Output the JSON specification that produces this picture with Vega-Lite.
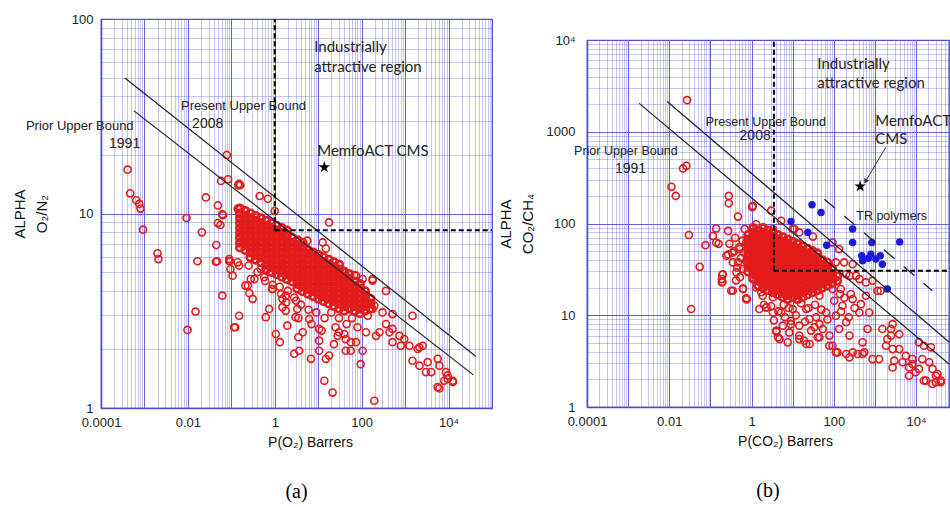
{
"$schema":"https://vega.github.io/schema/vega-lite/v6.json",
"padding":{"left":11,"top":12,"right":0,"bottom":0},
"spacing":3,
"config":{
"view":{"stroke":"#4b4bcc","strokeWidth":1.2},
"font":"Liberation Sans",
"axis":{"domainColor":"#4b4bcc","domainWidth":1.5,"ticks":false,"labelColor":"#222","titleColor":"#111","labelFont":"Liberation Sans","titleFont":"Liberation Sans","titleFontWeight":"normal","labelFontSize":13,"titleFontSize":14,"labelOverlap":false,"labelFlush":false,"labelBound":false,"labelPadding":8,"grid":true,"gridColor":"#5252d2","gridWidth":1}
},
"datasets":{
"blobA":[
{"x":0.158,"y":6.68},{"x":0.158,"y":7.08},{"x":0.158,"y":7.5},{"x":0.158,"y":7.94},{"x":0.158,"y":8.41},{"x":0.158,"y":8.91},{"x":0.158,"y":9.44},{"x":0.158,"y":10},{"x":0.158,"y":10.6},
{"x":0.209,"y":6.49},{"x":0.209,"y":6.88},{"x":0.209,"y":7.29},{"x":0.209,"y":7.72},{"x":0.209,"y":8.18},{"x":0.209,"y":8.66},{"x":0.209,"y":9.17},{"x":0.209,"y":9.72},{"x":0.209,"y":10.3},
{"x":0.275,"y":5.96},{"x":0.275,"y":6.31},{"x":0.275,"y":6.68},{"x":0.275,"y":7.08},{"x":0.275,"y":7.5},{"x":0.275,"y":7.94},{"x":0.275,"y":8.41},{"x":0.275,"y":8.91},{"x":0.275,"y":9.44},{"x":0.275,"y":10},
{"x":0.363,"y":5.79},{"x":0.363,"y":6.13},{"x":0.363,"y":6.49},{"x":0.363,"y":6.88},{"x":0.363,"y":7.29},{"x":0.363,"y":7.72},{"x":0.363,"y":8.18},{"x":0.363,"y":8.66},{"x":0.363,"y":9.17},{"x":0.363,"y":9.72},
{"x":0.479,"y":5.62},{"x":0.479,"y":5.96},{"x":0.479,"y":6.31},{"x":0.479,"y":6.68},{"x":0.479,"y":7.08},{"x":0.479,"y":7.5},{"x":0.479,"y":7.94},{"x":0.479,"y":8.41},{"x":0.479,"y":8.91},{"x":0.479,"y":9.44},
{"x":0.631,"y":5.16},{"x":0.631,"y":5.46},{"x":0.631,"y":5.79},{"x":0.631,"y":6.13},{"x":0.631,"y":6.49},{"x":0.631,"y":6.88},{"x":0.631,"y":7.29},{"x":0.631,"y":7.72},{"x":0.631,"y":8.18},{"x":0.631,"y":8.66},{"x":0.631,"y":9.17},
{"x":0.832,"y":5.01},{"x":0.832,"y":5.31},{"x":0.832,"y":5.62},{"x":0.832,"y":5.96},{"x":0.832,"y":6.31},{"x":0.832,"y":6.68},{"x":0.832,"y":7.08},{"x":0.832,"y":7.5},{"x":0.832,"y":7.94},{"x":0.832,"y":8.41},{"x":0.832,"y":8.91},
{"x":1.1,"y":4.87},{"x":1.1,"y":5.16},{"x":1.1,"y":5.46},{"x":1.1,"y":5.79},{"x":1.1,"y":6.13},{"x":1.1,"y":6.49},{"x":1.1,"y":6.88},{"x":1.1,"y":7.29},{"x":1.1,"y":7.72},{"x":1.1,"y":8.18},{"x":1.1,"y":8.66},
{"x":1.45,"y":4.73},{"x":1.45,"y":5.01},{"x":1.45,"y":5.31},{"x":1.45,"y":5.62},{"x":1.45,"y":5.96},{"x":1.45,"y":6.31},{"x":1.45,"y":6.68},{"x":1.45,"y":7.08},{"x":1.45,"y":7.5},{"x":1.45,"y":7.94},{"x":1.45,"y":8.41},
{"x":1.91,"y":4.6},{"x":1.91,"y":4.87},{"x":1.91,"y":5.16},{"x":1.91,"y":5.46},{"x":1.91,"y":5.79},{"x":1.91,"y":6.13},{"x":1.91,"y":6.49},{"x":1.91,"y":6.88},{"x":1.91,"y":7.29},{"x":1.91,"y":7.72},{"x":1.91,"y":8.18},
{"x":2.51,"y":4.47},{"x":2.51,"y":4.73},{"x":2.51,"y":5.01},{"x":2.51,"y":5.31},{"x":2.51,"y":5.62},{"x":2.51,"y":5.96},{"x":2.51,"y":6.31},{"x":2.51,"y":6.68},{"x":2.51,"y":7.08},{"x":2.51,"y":7.5},
{"x":3.31,"y":4.1},{"x":3.31,"y":4.34},{"x":3.31,"y":4.6},{"x":3.31,"y":4.87},{"x":3.31,"y":5.16},{"x":3.31,"y":5.46},{"x":3.31,"y":5.79},{"x":3.31,"y":6.13},{"x":3.31,"y":6.49},{"x":3.31,"y":6.88},{"x":3.31,"y":7.29},
{"x":4.37,"y":3.98},{"x":4.37,"y":4.22},{"x":4.37,"y":4.47},{"x":4.37,"y":4.73},{"x":4.37,"y":5.01},{"x":4.37,"y":5.31},{"x":4.37,"y":5.62},{"x":4.37,"y":5.96},{"x":4.37,"y":6.31},{"x":4.37,"y":6.68},{"x":4.37,"y":7.08},
{"x":5.75,"y":3.87},{"x":5.75,"y":4.1},{"x":5.75,"y":4.34},{"x":5.75,"y":4.6},{"x":5.75,"y":4.87},{"x":5.75,"y":5.16},{"x":5.75,"y":5.46},{"x":5.75,"y":5.79},{"x":5.75,"y":6.13},{"x":5.75,"y":6.49},
{"x":7.59,"y":3.76},{"x":7.59,"y":3.98},{"x":7.59,"y":4.22},{"x":7.59,"y":4.47},{"x":7.59,"y":4.73},{"x":7.59,"y":5.01},{"x":7.59,"y":5.31},{"x":7.59,"y":5.62},{"x":7.59,"y":5.96},{"x":7.59,"y":6.31},
{"x":10,"y":3.65},{"x":10,"y":3.87},{"x":10,"y":4.1},{"x":10,"y":4.34},{"x":10,"y":4.6},{"x":10,"y":4.87},{"x":10,"y":5.16},{"x":10,"y":5.46},{"x":10,"y":5.79},{"x":10,"y":6.13},
{"x":13.2,"y":3.55},{"x":13.2,"y":3.76},{"x":13.2,"y":3.98},{"x":13.2,"y":4.22},{"x":13.2,"y":4.47},{"x":13.2,"y":4.73},{"x":13.2,"y":5.01},{"x":13.2,"y":5.31},{"x":13.2,"y":5.62},{"x":13.2,"y":5.96},
{"x":17.4,"y":3.45},{"x":17.4,"y":3.65},{"x":17.4,"y":3.87},{"x":17.4,"y":4.1},{"x":17.4,"y":4.34},{"x":17.4,"y":4.6},{"x":17.4,"y":4.87},{"x":17.4,"y":5.16},{"x":17.4,"y":5.46},{"x":17.4,"y":5.79},
{"x":22.9,"y":3.35},{"x":22.9,"y":3.55},{"x":22.9,"y":3.76},{"x":22.9,"y":3.98},{"x":22.9,"y":4.22},{"x":22.9,"y":4.47},{"x":22.9,"y":4.73},{"x":22.9,"y":5.01},{"x":22.9,"y":5.31},{"x":22.9,"y":5.62},
{"x":30.2,"y":3.25},{"x":30.2,"y":3.45},{"x":30.2,"y":3.65},{"x":30.2,"y":3.87},{"x":30.2,"y":4.1},{"x":30.2,"y":4.34},{"x":30.2,"y":4.6},{"x":30.2,"y":4.87},{"x":30.2,"y":5.16},{"x":30.2,"y":5.46},
{"x":39.8,"y":3.16},{"x":39.8,"y":3.35},{"x":39.8,"y":3.55},{"x":39.8,"y":3.76},{"x":39.8,"y":3.98},{"x":39.8,"y":4.22},{"x":39.8,"y":4.47},{"x":39.8,"y":4.73},{"x":39.8,"y":5.01},
{"x":52.5,"y":3.25},{"x":52.5,"y":3.45},{"x":52.5,"y":3.65},{"x":52.5,"y":3.87},{"x":52.5,"y":4.1},{"x":52.5,"y":4.34},{"x":52.5,"y":4.6},{"x":52.5,"y":4.87},
{"x":69.2,"y":3.16},{"x":69.2,"y":3.35},{"x":69.2,"y":3.55},{"x":69.2,"y":3.76},{"x":69.2,"y":3.98},{"x":69.2,"y":4.22},{"x":69.2,"y":4.47},
{"x":91.2,"y":3.07},{"x":91.2,"y":3.25},{"x":91.2,"y":3.45},{"x":91.2,"y":3.65},{"x":91.2,"y":3.87},{"x":91.2,"y":4.1},{"x":91.2,"y":4.34},
{"x":120,"y":3.16},{"x":120,"y":3.35},{"x":120,"y":3.55},{"x":120,"y":3.76},{"x":120,"y":3.98},
{"x":158,"y":3.25},{"x":158,"y":3.45},{"x":158,"y":3.65}
],
"redA":[
{"x":0.00041,"y":16.8},{"x":0.00047,"y":12.7},{"x":0.00065,"y":11.7},{"x":0.00076,"y":11.2},{"x":0.00081,"y":10.6},{"x":0.00093,"y":8.26},{"x":0.002,"y":6.24},{"x":0.0021,"y":5.83},{"x":0.0093,"y":9.48},{"x":0.021,"y":8},{"x":0.0166,"y":5.68},{"x":0.026,"y":12.1},{"x":0.0787,"y":20},{"x":0.058,"y":14.7},{"x":0.084,"y":15},{"x":0.049,"y":11},{"x":0.064,"y":9.8},{"x":0.049,"y":8.93},{"x":0.056,"y":8.73},{"x":0.045,"y":6.89},{"x":0.047,"y":5.68},{"x":0.062,"y":3.78},{"x":0.093,"y":5.68},{"x":0.095,"y":5.18},{"x":0.14,"y":5.61},{"x":0.144,"y":14},{"x":0.16,"y":14},{"x":0.14,"y":10.6},{"x":0.21,"y":4.26},{"x":0.26,"y":3.89},{"x":0.45,"y":12.3},{"x":0.69,"y":11.9},{"x":1,"y":10.3},{"x":0.34,"y":4.6},{"x":0.57,"y":4.7},{"x":0.86,"y":4.09},{"x":1.4,"y":3.86},{"x":1.83,"y":3.49},{"x":3.1,"y":3.56},{"x":0.151,"y":14.2},{"x":0.0098,"y":2.52},{"x":0.015,"y":3.13},{"x":0.123,"y":2.6},{"x":0.044,"y":5.65},{"x":0.089,"y":5.7},{"x":0.062,"y":9.9},{"x":0.116,"y":2.6},{"x":0.151,"y":2.98},{"x":0.62,"y":2.93},{"x":1.06,"y":2.4},{"x":1.31,"y":2.18},{"x":2.8,"y":1.9},{"x":3.65,"y":1.97},{"x":6.8,"y":1.79},{"x":13.8,"y":1.38},{"x":21.4,"y":1.2},{"x":195,"y":1.09},{"x":95,"y":1.68},{"x":56,"y":1.97},{"x":17.8,"y":1.86},{"x":15,"y":1.79},{"x":10.5,"y":2.22},{"x":3.47,"y":2.31},{"x":1.95,"y":2.65},{"x":1.78,"y":3.16},{"x":3.3,"y":3.23},{"x":6.2,"y":2.87},{"x":10.5,"y":2.55},{"x":30,"y":2.45},{"x":43,"y":2.26},{"x":74,"y":2.18},{"x":105,"y":1.97},{"x":257,"y":2.45},{"x":363,"y":2.7},{"x":513,"y":2.55},{"x":741,"y":2.35},{"x":955,"y":2.26},{"x":1260,"y":2.09},{"x":2140,"y":2.05},{"x":2530,"y":2.09},{"x":1480,"y":1.75},{"x":2140,"y":1.65},{"x":3310,"y":1.72},{"x":3980,"y":1.53},{"x":5620,"y":1.79},{"x":6170,"y":1.65},{"x":8710,"y":1.53},{"x":9550,"y":1.41},{"x":12600,"y":1.38},{"x":7940,"y":1.38},{"x":5620,"y":1.28},{"x":3020,"y":1.53},{"x":1480,"y":2.98},{"x":363,"y":4},{"x":178,"y":4.6},{"x":74,"y":4.79},{"x":36,"y":5.08},{"x":17.8,"y":9},{"x":12.6,"y":7.1},{"x":15,"y":6.6},{"x":5.6,"y":7.25},{"x":6.2,"y":6.3},{"x":43,"y":3.36},{"x":126,"y":3.5},{"x":138,"y":2.98},{"x":178,"y":3.23},{"x":302,"y":3.1},{"x":513,"y":3.04},{"x":437,"y":2.45},{"x":214,"y":2.35},{"x":126,"y":2.45},{"x":513,"y":2.18},{"x":794,"y":2.09},{"x":1950,"y":2.01},{"x":23,"y":2.13},{"x":28,"y":2.35},{"x":56,"y":2.18},{"x":43,"y":1.97},{"x":10.5,"y":1.97},{"x":4.4,"y":2.45},{"x":3,"y":2.93},{"x":1.5,"y":3.64},{"x":0.74,"y":3.23},{"x":0.31,"y":3.64},{"x":0.24,"y":4.26},{"x":0.107,"y":4.79},{"x":0.151,"y":5.4},{"x":0.089,"y":5.83},{"x":0.28,"y":4.6},{"x":0.48,"y":5.18},{"x":0.89,"y":4.09},{"x":1.78,"y":3.78},{"x":12600,"y":1.36},{"x":6170,"y":1.26},{"x":9550,"y":1.47},{"x":195,"y":3.36},{"x":178,"y":4.52},{"x":105,"y":4.6},{"x":68,"y":4.83},{"x":36,"y":5},
{"x":0.25,"y":5.4},{"x":0.4,"y":5},{"x":0.6,"y":4.5},{"x":0.9,"y":4.3},{"x":1.3,"y":4.2},{"x":2,"y":4},{"x":2.8,"y":3.7},{"x":4,"y":3.4},{"x":6,"y":3.2},{"x":9,"y":3.1},{"x":14,"y":2.9},{"x":20,"y":3.1},{"x":30,"y":2.9},{"x":45,"y":2.7},{"x":60,"y":2.9},{"x":80,"y":2.6},{"x":1.5,"y":3.3},{"x":3.5,"y":2.9},{"x":7,"y":2.7},{"x":12,"y":2.5},{"x":25,"y":2.6},{"x":40,"y":2.4}
],
"blobB":[
{"x":0.832,"y":29.9},{"x":0.832,"y":33.5},{"x":0.832,"y":37.6},{"x":0.832,"y":42.2},{"x":0.832,"y":47.3},{"x":0.832,"y":53.1},{"x":0.832,"y":59.6},{"x":0.832,"y":66.8},{"x":0.832,"y":75},
{"x":1.1,"y":25.1},{"x":1.1,"y":28.2},{"x":1.1,"y":31.6},{"x":1.1,"y":35.5},{"x":1.1,"y":39.8},{"x":1.1,"y":44.7},{"x":1.1,"y":50.1},{"x":1.1,"y":56.2},{"x":1.1,"y":63.1},{"x":1.1,"y":70.8},{"x":1.1,"y":79.4},{"x":1.1,"y":89.1},
{"x":1.45,"y":21.1},{"x":1.45,"y":23.7},{"x":1.45,"y":26.6},{"x":1.45,"y":29.9},{"x":1.45,"y":33.5},{"x":1.45,"y":37.6},{"x":1.45,"y":42.2},{"x":1.45,"y":47.3},{"x":1.45,"y":53.1},{"x":1.45,"y":59.6},{"x":1.45,"y":66.8},{"x":1.45,"y":75},{"x":1.45,"y":84.1},
{"x":1.91,"y":20},{"x":1.91,"y":22.4},{"x":1.91,"y":25.1},{"x":1.91,"y":28.2},{"x":1.91,"y":31.6},{"x":1.91,"y":35.5},{"x":1.91,"y":39.8},{"x":1.91,"y":44.7},{"x":1.91,"y":50.1},{"x":1.91,"y":56.2},{"x":1.91,"y":63.1},{"x":1.91,"y":70.8},{"x":1.91,"y":79.4},{"x":1.91,"y":89.1},
{"x":2.51,"y":18.8},{"x":2.51,"y":21.1},{"x":2.51,"y":23.7},{"x":2.51,"y":26.6},{"x":2.51,"y":29.9},{"x":2.51,"y":33.5},{"x":2.51,"y":37.6},{"x":2.51,"y":42.2},{"x":2.51,"y":47.3},{"x":2.51,"y":53.1},{"x":2.51,"y":59.6},{"x":2.51,"y":66.8},{"x":2.51,"y":75},{"x":2.51,"y":84.1},
{"x":3.31,"y":17.8},{"x":3.31,"y":20},{"x":3.31,"y":22.4},{"x":3.31,"y":25.1},{"x":3.31,"y":28.2},{"x":3.31,"y":31.6},{"x":3.31,"y":35.5},{"x":3.31,"y":39.8},{"x":3.31,"y":44.7},{"x":3.31,"y":50.1},{"x":3.31,"y":56.2},{"x":3.31,"y":63.1},{"x":3.31,"y":70.8},{"x":3.31,"y":79.4},
{"x":4.37,"y":16.8},{"x":4.37,"y":18.8},{"x":4.37,"y":21.1},{"x":4.37,"y":23.7},{"x":4.37,"y":26.6},{"x":4.37,"y":29.9},{"x":4.37,"y":33.5},{"x":4.37,"y":37.6},{"x":4.37,"y":42.2},{"x":4.37,"y":47.3},{"x":4.37,"y":53.1},{"x":4.37,"y":59.6},{"x":4.37,"y":66.8},{"x":4.37,"y":75},
{"x":5.75,"y":15.8},{"x":5.75,"y":17.8},{"x":5.75,"y":20},{"x":5.75,"y":22.4},{"x":5.75,"y":25.1},{"x":5.75,"y":28.2},{"x":5.75,"y":31.6},{"x":5.75,"y":35.5},{"x":5.75,"y":39.8},{"x":5.75,"y":44.7},{"x":5.75,"y":50.1},{"x":5.75,"y":56.2},{"x":5.75,"y":63.1},{"x":5.75,"y":70.8},
{"x":7.59,"y":15},{"x":7.59,"y":16.8},{"x":7.59,"y":18.8},{"x":7.59,"y":21.1},{"x":7.59,"y":23.7},{"x":7.59,"y":26.6},{"x":7.59,"y":29.9},{"x":7.59,"y":33.5},{"x":7.59,"y":37.6},{"x":7.59,"y":42.2},{"x":7.59,"y":47.3},{"x":7.59,"y":53.1},{"x":7.59,"y":59.6},{"x":7.59,"y":66.8},
{"x":10,"y":15.8},{"x":10,"y":17.8},{"x":10,"y":20},{"x":10,"y":22.4},{"x":10,"y":25.1},{"x":10,"y":28.2},{"x":10,"y":31.6},{"x":10,"y":35.5},{"x":10,"y":39.8},{"x":10,"y":44.7},{"x":10,"y":50.1},{"x":10,"y":56.2},{"x":10,"y":63.1},
{"x":13.2,"y":15},{"x":13.2,"y":16.8},{"x":13.2,"y":18.8},{"x":13.2,"y":21.1},{"x":13.2,"y":23.7},{"x":13.2,"y":26.6},{"x":13.2,"y":29.9},{"x":13.2,"y":33.5},{"x":13.2,"y":37.6},{"x":13.2,"y":42.2},{"x":13.2,"y":47.3},{"x":13.2,"y":53.1},{"x":13.2,"y":59.6},
{"x":17.4,"y":15.8},{"x":17.4,"y":17.8},{"x":17.4,"y":20},{"x":17.4,"y":22.4},{"x":17.4,"y":25.1},{"x":17.4,"y":28.2},{"x":17.4,"y":31.6},{"x":17.4,"y":35.5},{"x":17.4,"y":39.8},{"x":17.4,"y":44.7},{"x":17.4,"y":50.1},{"x":17.4,"y":56.2},
{"x":22.9,"y":16.8},{"x":22.9,"y":18.8},{"x":22.9,"y":21.1},{"x":22.9,"y":23.7},{"x":22.9,"y":26.6},{"x":22.9,"y":29.9},{"x":22.9,"y":33.5},{"x":22.9,"y":37.6},{"x":22.9,"y":42.2},{"x":22.9,"y":47.3},{"x":22.9,"y":53.1},
{"x":30.2,"y":17.8},{"x":30.2,"y":20},{"x":30.2,"y":22.4},{"x":30.2,"y":25.1},{"x":30.2,"y":28.2},{"x":30.2,"y":31.6},{"x":30.2,"y":35.5},{"x":30.2,"y":39.8},{"x":30.2,"y":44.7},{"x":30.2,"y":50.1},
{"x":39.8,"y":18.8},{"x":39.8,"y":21.1},{"x":39.8,"y":23.7},{"x":39.8,"y":26.6},{"x":39.8,"y":29.9},{"x":39.8,"y":33.5},{"x":39.8,"y":37.6},{"x":39.8,"y":42.2},{"x":39.8,"y":47.3},
{"x":52.5,"y":20},{"x":52.5,"y":22.4},{"x":52.5,"y":25.1},{"x":52.5,"y":28.2},{"x":52.5,"y":31.6},{"x":52.5,"y":35.5},{"x":52.5,"y":39.8},
{"x":69.2,"y":21.1},{"x":69.2,"y":23.7},{"x":69.2,"y":26.6},{"x":69.2,"y":29.9},{"x":69.2,"y":33.5},{"x":69.2,"y":37.6},
{"x":91.2,"y":22.4},{"x":91.2,"y":25.1},{"x":91.2,"y":28.2},{"x":91.2,"y":31.6},
{"x":120,"y":23.7},{"x":120,"y":26.6}
],
"redB":[
{"x":0.027,"y":2210},{"x":0.0216,"y":398},{"x":0.026,"y":425},{"x":0.0113,"y":251},{"x":0.0144,"y":200},{"x":0.03,"y":75},{"x":0.076,"y":58},{"x":0.055,"y":33.7},{"x":0.034,"y":11.7},{"x":0.28,"y":200},{"x":0.28,"y":166},{"x":1.04,"y":151},{"x":3,"y":138},{"x":0.47,"y":119},{"x":0.138,"y":88},{"x":0.115,"y":73},{"x":0.158,"y":60},{"x":0.29,"y":60},{"x":1.3,"y":98},{"x":0.68,"y":87},{"x":0.34,"y":48},{"x":0.27,"y":46},{"x":0.47,"y":37.7},{"x":0.43,"y":29.3},{"x":0.195,"y":27.6},{"x":0.195,"y":23.2},{"x":0.32,"y":18.5},{"x":0.62,"y":19.6},{"x":0.74,"y":15.3},{"x":1.72,"y":17.8},{"x":0.245,"y":44.5},{"x":0.2,"y":28},{"x":0.19,"y":22.8},{"x":0.77,"y":15},{"x":2.27,"y":12.2},{"x":4,"y":6.6},{"x":4.4,"y":5.75},{"x":7.6,"y":5.07},{"x":21.4,"y":4.86},{"x":19,"y":5.27},{"x":40.7,"y":5.75},{"x":78,"y":4.65},{"x":123,"y":3.94},{"x":240,"y":3.48},{"x":380,"y":3.78},{"x":550,"y":3.94},{"x":1260,"y":3.33},{"x":2690,"y":2.7},{"x":4680,"y":3.07},{"x":8130,"y":2.94},{"x":11700,"y":2.6},{"x":6760,"y":2.19},{"x":15500,"y":1.94},{"x":25000,"y":1.78},{"x":39800,"y":1.86},{"x":30200,"y":2.19},{"x":14100,"y":3.33},{"x":22900,"y":4.47},{"x":2690,"y":4.28},{"x":2000,"y":5.5},{"x":1510,"y":7.08},{"x":2690,"y":8},{"x":660,"y":7.08},{"x":725,"y":10.7},{"x":417,"y":10.7},{"x":457,"y":13.2},{"x":603,"y":16.3},{"x":1150,"y":18.5},{"x":603,"y":22.8},{"x":417,"y":24.8},{"x":240,"y":26.9},{"x":178,"y":37.7},{"x":288,"y":36},{"x":135,"y":52.6},{"x":93,"y":62},{"x":31,"y":72},{"x":65,"y":24.8},{"x":93,"y":19.3},{"x":148,"y":19.3},{"x":102,"y":14.4},{"x":162,"y":12.7},{"x":288,"y":15},{"x":65,"y":10.7},{"x":37,"y":9.5},{"x":112,"y":9.9},{"x":200,"y":8.4},{"x":135,"y":7.08},{"x":54,"y":7.08},{"x":78,"y":6},{"x":240,"y":6},{"x":500,"y":5.07},{"x":14.5,"y":7.7},{"x":9.1,"y":8.7},{"x":10,"y":11.7},{"x":5.25,"y":10.7},{"x":3.3,"y":10.7},{"x":21.4,"y":11.7},{"x":25.7,"y":9.1},{"x":33.9,"y":7.4},{"x":14.5,"y":6},{"x":8.3,"y":6.5},{"x":5.75,"y":7.7},{"x":44.7,"y":16.3},{"x":31,"y":20.1},{"x":14.5,"y":17.8},{"x":6.9,"y":16.3},{"x":3.3,"y":15.7},{"x":1.86,"y":16.3},{"x":1.29,"y":20.1},{"x":1.07,"y":24.8},{"x":0.62,"y":31.9},{"x":0.74,"y":39.3},{"x":0.35,"y":37.7},{"x":0.51,"y":52.6},{"x":0.74,"y":62},{"x":1.29,"y":73.5},{"x":3.3,"y":87},{"x":2.1,"y":76.7},{"x":5.25,"y":107},{"x":11,"y":87},{"x":10,"y":87},{"x":14.5,"y":80},{"x":112,"y":37.7},{"x":200,"y":28.1},{"x":347,"y":26.9},{"x":871,"y":23.8},{"x":1380,"y":18.5},{"x":2460,"y":7.08},{"x":3890,"y":6.2},{"x":2460,"y":6},{"x":1860,"y":4.65},{"x":3890,"y":4.28},{"x":5620,"y":3.62},{"x":2950,"y":3.2},{"x":8130,"y":3.33},{"x":11700,"y":5.07},{"x":15500,"y":4.65},{"x":20900,"y":3.07},{"x":25100,"y":2.6},{"x":33100,"y":2.29},{"x":39800,"y":1.94},{"x":30200,"y":1.86},{"x":17400,"y":1.94},{"x":9800,"y":2.39},{"x":6760,"y":2.7},{"x":871,"y":3.33},{"x":500,"y":3.78},{"x":288,"y":3.94},{"x":200,"y":3.78},{"x":112,"y":3.94},{"x":93,"y":4.65},{"x":44.7,"y":5.75},{"x":25.7,"y":4.86},{"x":14.5,"y":5.5},{"x":4.8,"y":5.5},{"x":4,"y":6.8},{"x":2.3,"y":12.2},{"x":1.55,"y":11.7},{"x":0.74,"y":15},{"x":0.35,"y":18.5},{"x":0.62,"y":19.3},{"x":0.19,"y":24.8},{"x":0.138,"y":62},{"x":0.27,"y":83},{"x":1.07,"y":156},
{"x":2,"y":13},{"x":3,"y":12.5},{"x":4.5,"y":11},{"x":6,"y":13},{"x":8,"y":12},{"x":12,"y":10},{"x":16,"y":13.5},{"x":24,"y":12},{"x":35,"y":13},{"x":50,"y":11.5},{"x":3.5,"y":8.8},{"x":6.5,"y":9.5},{"x":9,"y":8},{"x":20,"y":8.5},{"x":28,"y":6.8},{"x":45,"y":8},{"x":70,"y":9},{"x":150,"y":11},{"x":230,"y":9.5},{"x":320,"y":12},{"x":180,"y":15.5},{"x":260,"y":17},{"x":140,"y":17},
{"x":0.4,"y":70},{"x":0.5,"y":55},{"x":0.55,"y":42},{"x":0.6,"y":65},{"x":0.45,"y":33},{"x":0.38,"y":50},{"x":0.65,"y":48},{"x":0.52,"y":26},{"x":0.42,"y":24}
],
"blueB":[{"x":29.5,"y":160},{"x":49,"y":132},{"x":9.1,"y":105},{"x":23.2,"y":80},{"x":286,"y":87},{"x":67,"y":58},{"x":286,"y":62},{"x":841,"y":62},{"x":3990,"y":63},{"x":479,"y":44.5},{"x":795,"y":46.4},{"x":1050,"y":41},{"x":1350,"y":44.5},{"x":1510,"y":36},{"x":500,"y":39.3},{"x":690,"y":41.7},{"x":2000,"y":19.3}],
"starA":[{"x":13.8,"y":17.3}],
"starB":[{"x":437,"y":254}],
"solidA":[{"x":0.000575,"y":33.7,"x2":37150,"y2":1.48},{"x":0.000355,"y":49.7,"x2":42700,"y2":1.84}],
"dashA":[{"x":1,"y":8.2,"x2":1,"y2":100},{"x":1,"y":8.2,"x2":100000,"y2":8.2}],
"solidB":[{"x":0.00186,"y":2040,"x2":63100,"y2":2.94},{"x":0.0089,"y":2140,"x2":63100,"y2":5.1}],
"dashB":[{"x":3.5,"y":30.5,"x2":3.5,"y2":10000},{"x":3.5,"y":30.5,"x2":63100,"y2":30.5}],
"trB":[{"x":59,"y":184,"x2":24800,"y2":18.5}],
"arrB":[{"x":1845,"y":680,"x2":603,"y2":292}],
"headB":[{"x":603,"y":292}],
"t1A":[{"x":8.1,"y":71.8,"t":"Industrially"},{"x":8.1,"y":56.6,"t":"attractive region"},{"x":9.5,"y":20.9,"t":"MemfoACT CMS"}],
"t2A":[{"x":0.00697,"y":35.7,"t":"Present Upper Bound"},{"x":0.00000187,"y":28.2,"t":"Prior Upper Bound"}],
"t3A":[{"x":0.0125,"y":28.8,"t":"2008"},{"x":0.000153,"y":22.8,"t":"1991"}],
"t1B":[{"x":39.8,"y":5450,"t":"Industrially"},{"x":39.8,"y":3380,"t":"attractive region"},{"x":1015,"y":1305,"t":"MemfoACT"},{"x":1015,"y":830,"t":"CMS"}],
"t2B":[{"x":0.0767,"y":1282,"t":"Present Upper Bound"},{"x":0.0000485,"y":615,"t":"Prior Upper Bound"},{"x":351,"y":120,"t":"TR polymers"}],
"t3B":[{"x":0.512,"y":890,"t":"2008"},{"x":0.000478,"y":392,"t":"1991"}]
},
"hconcat":[
{
"width":391,"height":389,
"title":{"text":"(a)","orient":"bottom","font":"Liberation Serif","fontSize":20,"fontWeight":"normal","color":"#000","offset":33},
"encoding":{
"x":{"field":"x","type":"quantitative","scale":{"type":"log","domain":[0.0001,100000]},
"axis":{"title":"P(O₂) Barrers","titleX":209,"titleAlign":"center","titlePadding":6,
"values":[0.0001,0.0002,0.0003,0.0004,0.0005,0.0006,0.0007,0.0008,0.0009,0.001,0.002,0.003,0.004,0.005,0.006,0.007,0.008,0.009,0.01,0.02,0.03,0.04,0.05,0.06,0.07,0.08,0.09,0.1,0.2,0.3,0.4,0.5,0.6,0.7,0.8,0.9,1,2,3,4,5,6,7,8,9,10,20,30,40,50,60,70,80,90,100,200,300,400,500,600,700,800,900,1000,2000,3000,4000,5000,6000,7000,8000,9000,10000,20000,30000,40000,50000,60000,70000,80000,90000,100000],
"labelExpr":"datum.value==0.0001?'0.0001':datum.value==0.01?'0.01':datum.value==1?'1':datum.value==100?'100':datum.value==10000?'10⁴':''",
"gridDash":{"condition":{"test":"indexof([0.0001,0.001,0.01,0.1,1,10,100,1000,10000,100000],datum.value)>=0","value":[]},"value":[1,1]},
"gridOpacity":{"condition":{"test":"indexof([0.0001,0.001,0.01,0.1,1,10,100,1000,10000,100000],datum.value)>=0","value":0.9},"value":0.65}}},
"y":{"field":"y","type":"quantitative","scale":{"type":"log","domain":[1,100]},
"axis":{"title":["ALPHA","O₂/N₂"],"titleFontSize":15,"titleLineHeight":22,"titlePadding":22,"minExtent":30,"maxExtent":30,
"values":[1,2,3,4,5,6,7,8,9,10,20,30,40,50,60,70,80,90,100],
"labelExpr":"datum.value==1?'1':datum.value==10?'10':datum.value==100?'100':''",
"gridDash":{"condition":{"test":"indexof([1,10,100],datum.value)>=0","value":[]},"value":[1,1]},
"gridOpacity":{"condition":{"test":"indexof([1,10,100],datum.value)>=0","value":0.9},"value":0.65}}}
},
"layer":[
{"data":{"name":"blobA"},"mark":{"type":"point","shape":"circle","filled":false,"stroke":"#e31b1b","strokeWidth":2.6,"size":55,"opacity":1}},
{"data":{"name":"redA"},"mark":{"type":"point","shape":"circle","filled":false,"stroke":"#e31b1b","strokeWidth":1.6,"size":50,"opacity":1}},
{"data":{"name":"solidA"},"mark":{"type":"rule","color":"#222","strokeWidth":1.2},"encoding":{"x2":{"field":"x2"},"y2":{"field":"y2"}}},
{"data":{"name":"dashA"},"mark":{"type":"rule","color":"#000","strokeWidth":2,"strokeDash":[5,3]},"encoding":{"x2":{"field":"x2"},"y2":{"field":"y2"}}},
{"data":{"name":"starA"},"mark":{"type":"point","shape":"M0,-1L0.2245,-0.309L0.951,-0.309L0.363,0.118L0.588,0.809L0,0.382L-0.588,0.809L-0.363,0.118L-0.951,-0.309L-0.2245,-0.309Z","filled":true,"color":"#000","size":150,"opacity":1}},
{"data":{"name":"t1A"},"mark":{"type":"text","align":"left","baseline":"middle","font":"Lato","fontSize":15,"color":"#222"},"encoding":{"text":{"field":"t"}}},
{"data":{"name":"t2A"},"mark":{"type":"text","align":"left","baseline":"middle","font":"Liberation Sans","fontSize":13,"color":"#222"},"encoding":{"text":{"field":"t"}}},
{"data":{"name":"t3A"},"mark":{"type":"text","align":"left","baseline":"middle","font":"Liberation Sans","fontSize":14,"color":"#222"},"encoding":{"text":{"field":"t"}}}
]
},
{
"spacing":10,
"vconcat":[
{"width":362,"height":4,"view":{"stroke":null},"data":{"values":[]},"mark":"point","encoding":{}},
{
"width":362,"height":367,
"title":{"text":"(b)","orient":"bottom","font":"Liberation Serif","fontSize":20,"fontWeight":"normal","color":"#000","offset":33},
"encoding":{
"x":{"field":"x","type":"quantitative","scale":{"type":"log","domain":[0.0001,63100]},
"axis":{"title":"P(CO₂) Barrers","titleX":198,"titleAlign":"center","titlePadding":6,
"values":[0.0001,0.0002,0.0003,0.0004,0.0005,0.0006,0.0007,0.0008,0.0009,0.001,0.002,0.003,0.004,0.005,0.006,0.007,0.008,0.009,0.01,0.02,0.03,0.04,0.05,0.06,0.07,0.08,0.09,0.1,0.2,0.3,0.4,0.5,0.6,0.7,0.8,0.9,1,2,3,4,5,6,7,8,9,10,20,30,40,50,60,70,80,90,100,200,300,400,500,600,700,800,900,1000,2000,3000,4000,5000,6000,7000,8000,9000,10000,20000,30000,40000,50000,60000],
"labelExpr":"datum.value==0.0001?'0.0001':datum.value==0.01?'0.01':datum.value==1?'1':datum.value==100?'100':datum.value==10000?'10⁴':''",
"gridDash":{"condition":{"test":"indexof([0.0001,0.001,0.01,0.1,1,10,100,1000,10000],datum.value)>=0","value":[]},"value":[1,1]},
"gridOpacity":{"condition":{"test":"indexof([0.0001,0.001,0.01,0.1,1,10,100,1000,10000],datum.value)>=0","value":0.9},"value":0.65}}},
"y":{"field":"y","type":"quantitative","scale":{"type":"log","domain":[1,10000]},
"axis":{"title":["ALPHA","CO₂/CH₄"],"titleFontSize":15,"titleLineHeight":22,"titlePadding":10,"minExtent":42,"maxExtent":42,"labelPadding":12,
"values":[1,2,3,4,5,6,7,8,9,10,20,30,40,50,60,70,80,90,100,200,300,400,500,600,700,800,900,1000,2000,3000,4000,5000,6000,7000,8000,9000,10000],
"labelExpr":"datum.value==1?'1':datum.value==10?'10':datum.value==100?'100':datum.value==1000?'1000':datum.value==10000?'10⁴':''",
"gridDash":{"condition":{"test":"indexof([1,10,100,1000,10000],datum.value)>=0","value":[]},"value":[1,1]},
"gridOpacity":{"condition":{"test":"indexof([1,10,100,1000,10000],datum.value)>=0","value":0.9},"value":0.65}}}
},
"layer":[
{"data":{"name":"blobB"},"mark":{"type":"point","shape":"circle","filled":false,"stroke":"#e31b1b","strokeWidth":2.6,"size":55,"opacity":1}},
{"data":{"name":"redB"},"mark":{"type":"point","shape":"circle","filled":false,"stroke":"#e31b1b","strokeWidth":1.6,"size":50,"opacity":1}},
{"data":{"name":"blueB"},"mark":{"type":"point","shape":"circle","filled":true,"color":"#1a1ae0","size":55,"opacity":1}},
{"data":{"name":"solidB"},"mark":{"type":"rule","color":"#222","strokeWidth":1.2},"encoding":{"x2":{"field":"x2"},"y2":{"field":"y2"}}},
{"data":{"name":"dashB"},"mark":{"type":"rule","color":"#000","strokeWidth":2,"strokeDash":[5,3]},"encoding":{"x2":{"field":"x2"},"y2":{"field":"y2"}}},
{"data":{"name":"trB"},"mark":{"type":"rule","color":"#222","strokeWidth":1.3,"strokeDash":[14,12]},"encoding":{"x2":{"field":"x2"},"y2":{"field":"y2"}}},
{"data":{"name":"arrB"},"mark":{"type":"rule","color":"#333","strokeWidth":1},"encoding":{"x2":{"field":"x2"},"y2":{"field":"y2"}}},
{"data":{"name":"headB"},"mark":{"type":"point","shape":"triangle","filled":true,"color":"#333","size":30,"angle":211,"opacity":1}},
{"data":{"name":"starB"},"mark":{"type":"point","shape":"M0,-1L0.2245,-0.309L0.951,-0.309L0.363,0.118L0.588,0.809L0,0.382L-0.588,0.809L-0.363,0.118L-0.951,-0.309L-0.2245,-0.309Z","filled":true,"color":"#000","size":150,"opacity":1}},
{"data":{"name":"t1B"},"mark":{"type":"text","align":"left","baseline":"middle","font":"Lato","fontSize":15,"color":"#222"},"encoding":{"text":{"field":"t"}}},
{"data":{"name":"t2B"},"mark":{"type":"text","align":"left","baseline":"middle","font":"Liberation Sans","fontSize":12.5,"color":"#222"},"encoding":{"text":{"field":"t"}}},
{"data":{"name":"t3B"},"mark":{"type":"text","align":"left","baseline":"middle","font":"Liberation Sans","fontSize":14,"color":"#222"},"encoding":{"text":{"field":"t"}}}
]
}
]
}
]
}
